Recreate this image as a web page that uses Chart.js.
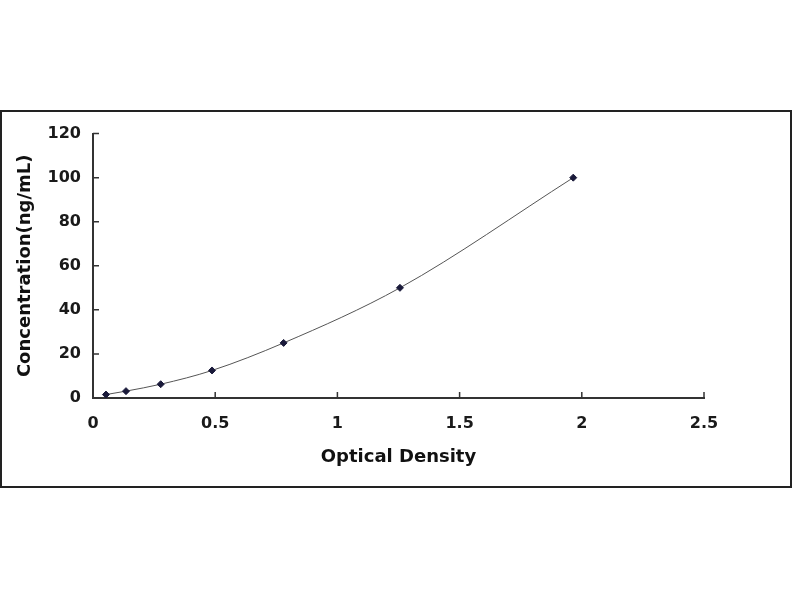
<!DOCTYPE html>
<html lang="en">
<head>
  <meta charset="UTF-8">
  <title>Standard Curve</title>
  <script src="https://cdn.jsdelivr.net/npm/chart.js"></script>
  <style>
    body {
      margin: 0;
      padding: 0;
      background: #fff;
      width: 800px;
      height: 600px;
      position: relative;
      overflow: hidden;
    }

    .frame {
      position: absolute;
      left: 0;
      top: 110px;
      width: 792px;
      height: 378px;
      box-sizing: border-box;
      border: 2px solid #222;
      background: #fff;
    }

    .frame canvas {
      display: block;
    }
  </style>
</head>
<body>
  <div class="frame">
    <canvas id="curve" width="788" height="374"></canvas>
  </div>

  <script>
    // standard points
    const opticalDensity = [0.053, 0.135, 0.277, 0.487, 0.78, 1.256, 1.965];
    const concentration = [1.56, 3.12, 6.25, 12.5, 25, 50, 100];

    const xTitle = 'Optical Density';
    const yTitle = 'Concentration(ng/mL)';

    const points = opticalDensity.map((x, i) => ({ x: x, y: concentration[i] }));

    const tickFont = { family: 'DejaVu Sans', size: 16, weight: 'bold' };
    const titleFont = { family: 'DejaVu Sans', size: 18, weight: 'bold' };

    // short tick marks on the inner side of both axes
    const innerTicks = {
      id: 'innerTicks',
      afterDraw(chart) {
        const c = chart.ctx;
        const xs = chart.scales.x;
        const ys = chart.scales.y;
        c.save();
        c.strokeStyle = '#333';
        c.lineWidth = 1.5;
        c.beginPath();
        xs.ticks.forEach(t => {
          const px = xs.getPixelForValue(t.value);
          c.moveTo(px, ys.bottom);
          c.lineTo(px, ys.bottom - 6);
        });
        ys.ticks.forEach(t => {
          const py = ys.getPixelForValue(t.value);
          c.moveTo(xs.left, py);
          c.lineTo(xs.left + 6, py);
        });
        c.stroke();
        c.restore();
      }
    };

    const ctx = document.getElementById('curve').getContext('2d');
    new Chart(ctx, {
      type: 'scatter',
      data: {
        datasets: [{
          data: points,
          showLine: true,
          borderColor: '#555',
          borderWidth: 1,
          tension: 0.4,
          cubicInterpolationMode: 'monotone',
          pointStyle: 'rectRot',
          pointRadius: 3.5,
          pointBackgroundColor: '#1a1a3a',
          pointBorderColor: '#1a1a3a'
        }]
      },
      options: {
        responsive: false,
        animation: false,
        layout: {
          padding: { left: 9, top: 20, right: 86, bottom: 14 }
        },
        plugins: {
          legend: { display: false },
          tooltip: { enabled: false }
        },
        scales: {
          x: {
            type: 'linear',
            min: 0,
            max: 2.5,
            afterFit(scale) { scale.height = 74; },
            border: { display: true, color: '#333', width: 2 },
            grid: { display: false, drawTicks: false },
            ticks: {
              stepSize: 0.5,
              padding: 16,
              color: '#1a1a1a',
              font: tickFont,
              maxRotation: 0,
              callback: v => String(Math.round(v * 10) / 10)
            },
            title: {
              display: true,
              text: xTitle,
              color: '#111',
              font: titleFont
            }
          },
          y: {
            min: 0,
            max: 120,
            afterFit(scale) { scale.width = 82; },
            border: { display: true, color: '#333', width: 2 },
            grid: { display: false, drawTicks: false },
            ticks: {
              stepSize: 20,
              padding: 12,
              color: '#1a1a1a',
              font: tickFont
            },
            title: {
              display: true,
              text: yTitle,
              color: '#111',
              font: titleFont
            }
          }
        }
      },
      plugins: [innerTicks]
    });
  </script>
</body>
</html>
